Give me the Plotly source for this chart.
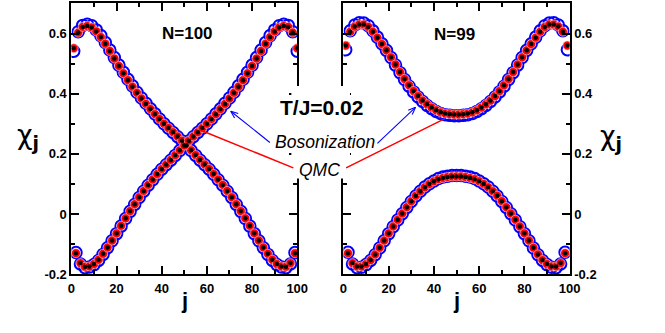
import math
import plotly.graph_objects as go

# ---------------- data ----------------
# N=100 : odd sites j=1,3,...,99 and even sites j=2,4,...,100
j100_odd = list(range(1, 100, 2))
j100_even = list(range(2, 101, 2))
qmc100_even = [-0.130, -0.163, -0.175, -0.174, -0.166, -0.152, -0.132, -0.111, -0.088, -0.064,
               -0.039, -0.014, 0.010, 0.033, 0.056, 0.077, 0.097, 0.115, 0.133, 0.150,
               0.165, 0.180, 0.196, 0.212, 0.228, 0.244, 0.258, 0.272, 0.286, 0.300,
               0.316, 0.332, 0.349, 0.366, 0.384, 0.403, 0.423, 0.445, 0.468, 0.492,
               0.517, 0.542, 0.566, 0.588, 0.607, 0.620, 0.625, 0.622, 0.603, 0.551]
qmc100_odd = [0.551, 0.603, 0.622, 0.625, 0.620, 0.607, 0.588, 0.566, 0.542, 0.517,
              0.492, 0.468, 0.445, 0.423, 0.403, 0.384, 0.366, 0.349, 0.332, 0.316,
              0.300, 0.286, 0.272, 0.258, 0.244, 0.228, 0.212, 0.196, 0.180, 0.165,
              0.150, 0.133, 0.115, 0.097, 0.077, 0.056, 0.033, 0.010, -0.014, -0.039,
              -0.064, -0.088, -0.111, -0.132, -0.152, -0.166, -0.174, -0.175, -0.163, -0.130]
bos100_even = [-0.128, -0.166, -0.178, -0.176, -0.168, -0.154, -0.134, -0.112, -0.089, -0.065,
               -0.040, -0.015, 0.009, 0.032, 0.055, 0.076, 0.096, 0.114, 0.132, 0.149,
               0.164, 0.179, 0.195, 0.211, 0.227, 0.243, 0.257, 0.271, 0.285, 0.300,
               0.316, 0.333, 0.350, 0.368, 0.386, 0.405, 0.426, 0.448, 0.471, 0.495,
               0.520, 0.545, 0.570, 0.593, 0.612, 0.626, 0.631, 0.627, 0.606, 0.541]
bos100_odd = [0.541, 0.606, 0.627, 0.631, 0.626, 0.612, 0.593, 0.570, 0.545, 0.520,
              0.495, 0.471, 0.448, 0.426, 0.405, 0.386, 0.368, 0.350, 0.333, 0.316,
              0.300, 0.285, 0.271, 0.257, 0.243, 0.227, 0.211, 0.195, 0.179, 0.164,
              0.149, 0.132, 0.114, 0.096, 0.076, 0.055, 0.032, 0.009, -0.015, -0.040,
              -0.065, -0.089, -0.112, -0.134, -0.154, -0.168, -0.176, -0.178, -0.166, -0.128]

# N=99 : odd sites j=1,...,99 (upper branch), even sites j=2,...,98 (lower branch)
j99_odd = list(range(1, 100, 2))
j99_even = list(range(2, 99, 2))
qmc99_odd = [0.560, 0.606, 0.623, 0.630, 0.630, 0.622, 0.606, 0.586, 0.565, 0.544,
             0.521, 0.497, 0.472, 0.449, 0.428, 0.409, 0.392, 0.377, 0.365, 0.354,
             0.345, 0.338, 0.334, 0.332, 0.331, 0.331, 0.332, 0.334, 0.338, 0.345,
             0.354, 0.365, 0.377, 0.392, 0.409, 0.428, 0.449, 0.472, 0.497, 0.521,
             0.544, 0.565, 0.586, 0.606, 0.622, 0.630, 0.630, 0.623, 0.606, 0.560]
qmc99_even = [-0.130, -0.163, -0.174, -0.174, -0.166, -0.153, -0.134, -0.112, -0.088, -0.064,
              -0.041, -0.019, 0.002, 0.023, 0.043, 0.061, 0.076, 0.089, 0.100, 0.109,
              0.116, 0.120, 0.123, 0.125, 0.125, 0.125, 0.123, 0.120, 0.116, 0.109,
              0.100, 0.089, 0.076, 0.061, 0.043, 0.023, 0.002, -0.019, -0.041, -0.064,
              -0.088, -0.112, -0.134, -0.153, -0.166, -0.174, -0.174, -0.163, -0.130]
bos99_odd = [0.546, 0.609, 0.628, 0.636, 0.635, 0.626, 0.609, 0.588, 0.566, 0.544,
             0.520, 0.495, 0.470, 0.447, 0.425, 0.406, 0.389, 0.374, 0.361, 0.350,
             0.341, 0.334, 0.330, 0.328, 0.327, 0.327, 0.328, 0.330, 0.334, 0.341,
             0.350, 0.361, 0.374, 0.389, 0.406, 0.425, 0.447, 0.470, 0.495, 0.520,
             0.544, 0.566, 0.588, 0.609, 0.626, 0.635, 0.636, 0.628, 0.609, 0.546]
bos99_even = [-0.127, -0.166, -0.178, -0.177, -0.168, -0.154, -0.135, -0.113, -0.089, -0.065,
              -0.042, -0.020, 0.001, 0.022, 0.042, 0.060, 0.076, 0.090, 0.101, 0.110,
              0.118, 0.123, 0.126, 0.128, 0.128, 0.128, 0.126, 0.123, 0.118, 0.110,
              0.101, 0.090, 0.076, 0.060, 0.042, 0.022, 0.001, -0.020, -0.042, -0.065,
              -0.089, -0.113, -0.135, -0.154, -0.168, -0.177, -0.178, -0.166, -0.127]

x_tickvals = [0, 20, 40, 60, 80, 100]
x_ticktext = ["0", "20", "40", "60", "80", "100"]
y_tickvals = [-0.2, 0, 0.2, 0.4, 0.6]
y_ticktext = ["-0.2", "0", "0.2", "0.4", "0.6"]

FONT = "Liberation Sans, Arial, sans-serif"

fig = go.Figure()


def add_panel(xs_list, bos_list, qmc_list, xa, ya):
    for xs, ys in zip(xs_list, bos_list):
        fig.add_trace(go.Scatter(x=xs, y=ys, mode="markers", xaxis=xa, yaxis=ya,
                                 marker=dict(symbol="circle-open", size=11.5, color="#0000ff",
                                             line=dict(width=2, color="#0000ff")),
                                 showlegend=False, hoverinfo="skip"))
    for xs, ys in zip(xs_list, qmc_list):
        fig.add_trace(go.Scatter(x=xs, y=ys, mode="markers", xaxis=xa, yaxis=ya,
                                 marker=dict(symbol="circle", size=9, color="#ff0000",
                                             line=dict(width=0.6, color="#ffd0d0")),
                                 showlegend=False, hoverinfo="skip"))
    for xs, ys in zip(xs_list, qmc_list):
        fig.add_trace(go.Scatter(x=xs, y=ys, mode="markers", xaxis=xa, yaxis=ya,
                                 marker=dict(symbol="circle", size=4.5, color="#000000"),
                                 showlegend=False, hoverinfo="skip"))


add_panel([j100_odd, j100_even], [bos100_odd, bos100_even], [qmc100_odd, qmc100_even], "x", "y")
add_panel([j99_odd, j99_even], [bos99_odd, bos99_even], [qmc99_odd, qmc99_even], "x2", "y2")

tickfont = dict(family=FONT, size=13, color="black", weight="bold")
common_x = dict(range=[0, 100], tickmode="array", tickvals=x_tickvals, ticktext=x_ticktext,
                ticks="inside", ticklen=8, tickwidth=2, tickcolor="black",
                showline=True, linewidth=2, linecolor="black", mirror="allticks",
                showgrid=False, zeroline=False, tickfont=tickfont, ticklabelstandoff=1,
                minor=dict(dtick=10, tick0=0, ticks="inside", ticklen=4, tickwidth=2,
                           tickcolor="black", showgrid=False))
common_y = dict(range=[-0.2, 0.7], tickmode="array", tickvals=y_tickvals, ticktext=y_ticktext,
                ticks="inside", ticklen=8, tickwidth=2, tickcolor="black",
                showline=True, linewidth=2, linecolor="black", mirror="allticks",
                showgrid=False, zeroline=False, tickfont=tickfont,
                minor=dict(dtick=0.1, tick0=0, ticks="inside", ticklen=4, tickwidth=2,
                           tickcolor="black", showgrid=False))

W, H = 665, 333
yd = [1 - 281 / H, 1 - 3.5 / H]
fig.update_layout(
    width=W, height=H, margin=dict(l=0, r=0, t=0, b=0),
    paper_bgcolor="white", plot_bgcolor="white",
    xaxis=dict(domain=[69 / W, 300 / W], anchor="y", **common_x),
    yaxis=dict(domain=yd, anchor="x", side="left", **common_y),
    xaxis2=dict(domain=[347.3 / W, 578.7 / W], anchor="y2", **common_x),
    yaxis2=dict(domain=yd, anchor="x2", side="right", **common_y),
)


def P(px, py):
    return px / W, 1 - py / H


annots = []


def text(px, py, s, size, family=FONT):
    x, y = P(px, py)
    annots.append(dict(x=x, y=y, xref="paper", yref="paper", text=s, showarrow=False,
                       xanchor="center", yanchor="middle",
                       font=dict(family=family, size=size, color="black")))


text(187.5, 34, "<b>N=100</b>", 17)
text(461, 35, "<b>N=99</b>", 17)
text(325, 110, "<b>T/J=0.02</b>", 21)
text(328, 145, "<i>Bosonization</i>", 17.5)
text(323, 174, "<i>QMC</i>", 17.5)
text(25, 140, "χ<sub><b>j</b></sub>", 27, "DejaVu Sans, sans-serif")
text(621, 141, "χ<sub><b>j</b></sub>", 27, "DejaVu Sans, sans-serif")
text(184.5, 308, "<b>j</b>", 22)
text(463, 308, "<b>j</b>", 22)

shapes = []

# white patch behind the central labels (hides the inner axis lines there)
a, b = P(294, 88)
c, d = P(354, 183)
shapes.append(dict(type="rect", xref="paper", yref="paper", x0=a, y0=d, x1=c, y1=b,
                   fillcolor="white", line=dict(width=0), layer="above"))


def line(x0, y0, x1, y1, color, width=1.5):
    a, b = P(x0, y0)
    c, d = P(x1, y1)
    shapes.append(dict(type="line", xref="paper", yref="paper", x0=a, y0=b, x1=c, y1=d,
                       line=dict(color=color, width=width), layer="above"))


def arrow(hx, hy, tx, ty, color):
    # shaft
    line(tx, ty, hx, hy, color, 1.1)
    # open V-shaped head, 8 px long, +-22 degrees
    ang = math.atan2(ty - hy, tx - hx)
    for s in (-1, 1):
        a2 = ang + s * math.radians(22)
        line(hx, hy, hx + 8 * math.cos(a2), hy + 8 * math.sin(a2), color, 1.1)


line(200, 133, 296, 172, "#ff0000")
line(350, 172, 450, 122, "#ff0000")
arrow(232, 114, 272, 146, "#0000ff")
arrow(421, 110, 382, 147, "#0000ff")

fig.update_layout(annotations=annots, shapes=shapes)
post = ("var s=document.createElement('style');"
        "s.textContent='html,body{margin:0!important;padding:0!important;overflow:hidden!important;}';"
        "document.head.appendChild(s);")
fig.write_html("out.html", post_script=post, config={"displayModeBar": False, "staticPlot": True})
